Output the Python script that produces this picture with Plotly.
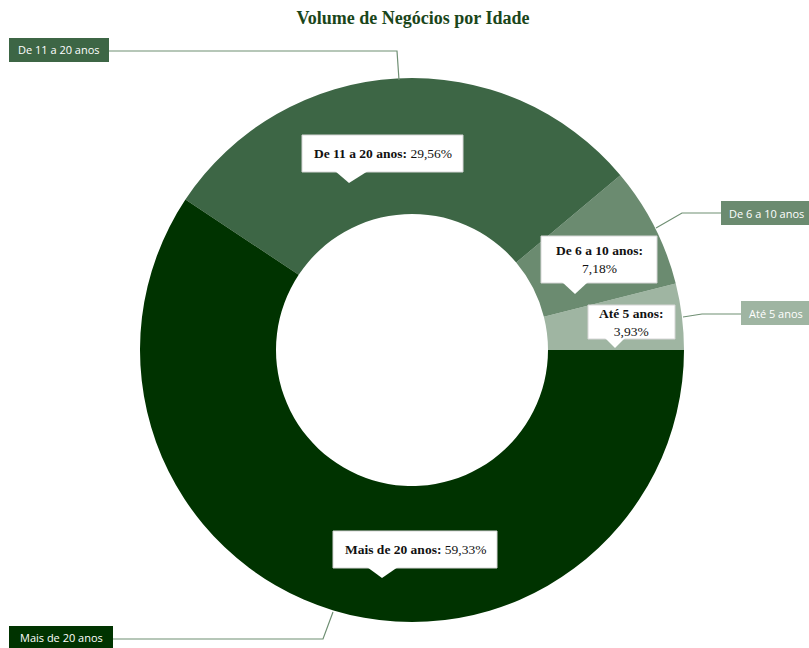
import plotly.graph_objects as go

categories = ["Até 5 anos", "De 6 a 10 anos", "De 11 a 20 anos", "Mais de 20 anos"]
values = [3.93, 7.18, 29.56, 59.33]
colors = ["#9fb5a2", "#6b8b70", "#3d6645", "#003300"]
value_labels = ["3,93%", "7,18%", "29,56%", "59,33%"]

W, H = 809, 648
ML, MR, MT, MB = 140, 125, 78, 26
PW = W - ML - MR
PH = H - MT - MB


def px(x):
    return (x - ML) / PW


def py(y):
    return (H - MB - y) / PH


# plotly's counterclockwise pies end the first slice at `rotation`; start it at 3 o'clock
rot = 90 - values[0] / sum(values) * 360

fig = go.Figure(go.Pie(
    labels=categories, values=values, hole=0.5, sort=False,
    direction="counterclockwise", rotation=rot,
    marker=dict(colors=colors, line=dict(width=0)),
    textinfo="none", hoverinfo="label+percent", showlegend=False,
))

shapes = []
annotations = []

# inner callout boxes
callouts = [
    (2, 302, 135, 463, 172, (335, 368, 349, 183), False),
    (3, 333, 531, 497, 568, (367, 398, 382, 578), False),
    (1, 541, 236, 657, 283, (562, 588, 575, 294), True),
    (0, 588, 305, 675, 339, (605, 625, 615, 348), True),
]
for i, l, t, r, b, (p1, p2, ax, ay), two in callouts:
    if two:
        txt = f"<b>{categories[i]}:</b><br>{value_labels[i]}"
    else:
        txt = f"<b>{categories[i]}:</b> {value_labels[i]}"
    shapes.append(dict(type="rect", xref="paper", yref="paper",
                       x0=px(l), x1=px(r), y0=py(b), y1=py(t),
                       fillcolor="white", line=dict(color="#d6d6d6", width=1), layer="above"))
    shapes.append(dict(type="path", xref="paper", yref="paper",
                       path=f"M {px(p1)} {py(b - 1)} L {px(p2)} {py(b - 1)} L {px(ax)} {py(ay)} Z",
                       fillcolor="white", line=dict(width=0), layer="above"))
    annotations.append(dict(xref="paper", yref="paper", x=px((l + r) / 2), y=py((t + b) / 2),
                            text=txt, showarrow=False, xanchor="center", yanchor="middle",
                            font=dict(family="Liberation Serif", size=13.5, color="#111111")))

# outer labels with leader lines
outer = [
    (2, "left", 9, 38, 109, 62, [(109, 51), (397, 51), (399, 80)]),
    (3, "left", 9, 626, 113, 648, [(113, 639), (323, 639), (333, 612)]),
    (1, "right", 721, 201, 809, 225, [(721, 213), (682, 213), (656, 228)]),
    (0, "right", 741, 301, 809, 325, [(741, 314), (702, 314), (683, 317)]),
]
for i, side, l, t, r, b, pts in outer:
    shapes.append(dict(type="rect", xref="paper", yref="paper",
                       x0=px(l), x1=px(r), y0=py(b), y1=py(t),
                       fillcolor=colors[i], line=dict(width=0), layer="above"))
    path = "M " + " L ".join(f"{px(x)} {py(y)}" for x, y in pts)
    shapes.append(dict(type="path", xref="paper", yref="paper", path=path,
                       line=dict(color="#6f8f73", width=1.2), layer="above"))
    annotations.append(dict(xref="paper", yref="paper", x=px((l + r) / 2) if side == "left" else px(l + 6),
                            y=py((t + b) / 2), text=categories[i], showarrow=False,
                            xanchor="center" if side == "left" else "left", yanchor="middle",
                            font=dict(family="Open Sans", size=11, color="white")))

fig.update_layout(
    width=W, height=H,
    margin=dict(l=ML, r=MR, t=MT, b=MB, pad=0),
    paper_bgcolor="white", plot_bgcolor="white",
    title=dict(text="<b>Volume de Negócios por Idade</b>", x=413 / W, xref="container",
               xanchor="center", y=1 - 18 / H, yref="container", yanchor="middle",
               font=dict(family="Liberation Serif", size=18, color="#1a461a")),
    shapes=shapes, annotations=annotations,
)

fig.write_html("out.html")
